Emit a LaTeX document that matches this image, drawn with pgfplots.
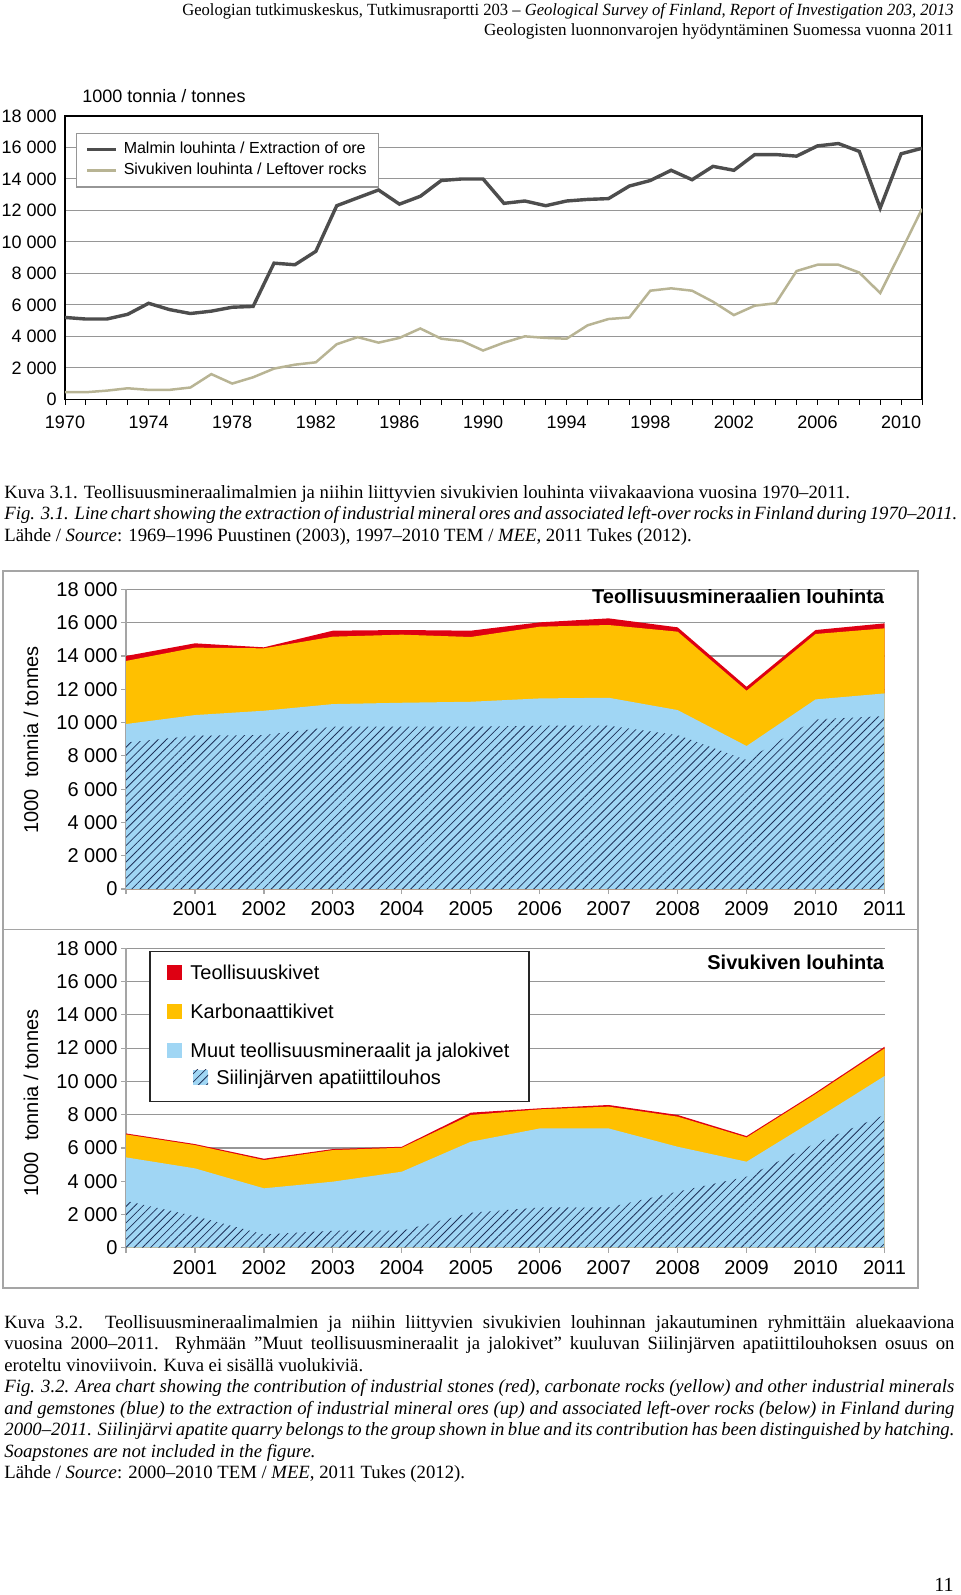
\documentclass[border=0pt]{standalone}
\usepackage{fontspec}
\setmainfont{Liberation Serif}
\newfontfamily\arial{Liberation Sans}
\usepackage{pgfplots}
\usepackage{pgfplotstable}
\pgfplotsset{compat=1.18}
\usetikzlibrary{patterns.meta}

\definecolor{oredark}{RGB}{77,77,77}
\definecolor{leftlight}{RGB}{184,180,148}
\definecolor{gridgray}{RGB}{150,150,150}
\definecolor{framegray}{RGB}{165,165,165}
\definecolor{redc}{RGB}{222,0,18}
\definecolor{yelc}{RGB}{255,192,0}
\definecolor{bluec}{RGB}{160,214,244}
\definecolor{hatchc}{RGB}{30,50,90}

\pgfplotstableread{
year ore left
1970 5200 450
1971 5100 450
1972 5100 550
1973 5400 700
1974 6100 600
1975 5700 600
1976 5450 750
1977 5600 1600
1978 5850 1000
1979 5900 1400
1980 8650 1950
1981 8550 2200
1982 9400 2350
1983 12300 3500
1984 12800 3950
1985 13300 3600
1986 12400 3900
1987 12900 4500
1988 13900 3850
1989 14000 3700
1990 14000 3100
1991 12450 3600
1992 12600 4000
1993 12300 3900
1994 12600 3850
1995 12700 4700
1996 12750 5100
1997 13550 5200
1998 13900 6900
1999 14550 7050
2000 13950 6900
2001 14800 6200
2002 14550 5350
2003 15550 5950
2004 15550 6100
2005 15450 8150
2006 16100 8550
2007 16250 8550
2008 15750 8050
2009 12150 6750
2010 15600 9400
2011 15950 12100
}\tabLine

\pgfplotstableread{
year tot yel blu hat
2000 14000 13700 9910 8800
2001 14760 14500 10450 9210
2002 14520 14460 10710 9250
2003 15520 15160 11110 9750
2004 15560 15280 11190 9750
2005 15520 15140 11250 9750
2006 16020 15760 11450 9810
2007 16260 15860 11490 9810
2008 15720 15460 10750 9250
2009 12150 11910 8590 7750
2010 15560 15320 11390 10190
2011 15960 15660 11750 10390
}\tabTop

\pgfplotstableread{
year tot yel blu hat
2000 6870 6810 5430 2810
2001 6230 6170 4770 1900
2002 5350 5270 3570 800
2003 5930 5870 3970 1020
2004 6070 6010 4570 1020
2005 8120 7980 6370 2100
2006 8380 8320 7170 2420
2007 8580 8480 7170 2420
2008 7980 7880 6070 3370
2009 6710 6630 5170 4270
2010 9320 9240 7720 6270
2011 12080 11980 10320 7980
}\tabBot

\pgfplotsset{
  areapanel/.style={
    scale only axis, width=379.25pt, height=149.8pt,
    xmin=2000, xmax=2011, ymin=0, ymax=18000,
    scaled x ticks=false, scaled y ticks=false,
    axis x line*=bottom, axis y line*=left,
    axis line style={-, draw=framegray, line width=0.7pt},
    xtick={2000,2001,2002,2003,2004,2005,2006,2007,2008,2009,2010,2011},
    xticklabels={,2001,2002,2003,2004,2005,2006,2007,2008,2009,2010,2011},
    ytick={0,2000,4000,6000,8000,10000,12000,14000,16000,18000},
    yticklabels={0,2 000,4 000,6 000,8 000,10 000,12 000,14 000,16 000,18 000},
    tick align=outside, major tick length=2.5pt,
    every tick/.style={draw=framegray, line width=0.6pt},
    ymajorgrids, grid style={draw=gridgray, line width=0.6pt},
    tick label style={font=\arial\fontsize{10}{12}\selectfont},
    xticklabel style={anchor=north, inner sep=0pt, yshift=-3.6pt},
    yticklabel style={anchor=east, inner sep=0pt, xshift=-1.5pt},
  },
  hatchfill/.style={draw=none, pattern={Lines[angle=45,distance=2.9pt,line width=0.4pt]}, pattern color=hatchc},
}

\begin{document}
\begin{tikzpicture}
\begin{scope}[x=0.5pt,y=-0.5pt]
\path[use as bounding box] (0,0) rectangle (960,1595);
% header
\node[anchor=base east, inner sep=0pt, font=\fontsize{8.54}{10}\selectfont] at (954,16) {\scalebox{0.972}[1]{Geologian tutkimuskeskus, Tutkimusraportti 203 – \textit{Geological Survey of Finland, Report of Investigation 203, 2013}}};
\node[anchor=base east, inner sep=0pt, font=\fontsize{8.54}{10}\selectfont] at (954,36) {Geologisten luonnonvarojen hyödyntäminen Suomessa vuonna 2011};
% caption 3.1
\begin{scope}[every node/.style={anchor=base west, inner sep=0pt, font=\fontsize{9.36}{11}\selectfont}]
\node at (4,498) {Kuva 3.1. Teollisuusmineraalimalmien ja niihin liittyvien sivukivien louhinta viivakaaviona vuosina 1970–2011.};
\node at (4,519.5) {\makebox[475pt][s]{\itshape Fig. 3.1. Line chart showing the extraction of industrial mineral ores and associated left-over rocks in Finland during 1970–2011.}};
\node at (4,541) {Lähde / \textit{Source}: 1969–1996 Puustinen (2003), 1997–2010 TEM / \textit{MEE}, 2011 Tukes (2012).};
% caption 3.2
\node at (4,1328) {\makebox[475pt][s]{Kuva 3.2. Teollisuusmineraalimalmien ja niihin liittyvien sivukivien louhinnan jakautuminen ryhmittäin aluekaaviona}};
\node at (4,1349.5) {\makebox[475pt][s]{vuosina 2000–2011. Ryhmään ”Muut teollisuusmineraalit ja jalokivet” kuuluvan Siilinjärven apatiittilouhoksen osuus on}};
\node at (4,1371) {eroteltu vinoviivoin. Kuva ei sisällä vuolukiviä.};
\node at (4,1392.5) {\makebox[475pt][s]{\itshape Fig. 3.2. Area chart showing the contribution of industrial stones (red), carbonate rocks (yellow) and other industrial minerals}};
\node at (4,1414) {\makebox[475pt][s]{\itshape and gemstones (blue) to the extraction of industrial mineral ores (up) and associated left-over rocks (below) in Finland during}};
\node at (4,1435.5) {\makebox[475pt][s]{\itshape 2000–2011. Siilinjärvi apatite quarry belongs to the group shown in blue and its contribution has been distinguished by hatching.}};
\node at (4,1457) {\itshape Soapstones are not included in the figure.};
\node at (4,1478.5) {Lähde / \textit{Source}: 2000–2010 TEM / \textit{MEE}, 2011 Tukes (2012).};
\end{scope}
\node[anchor=base east, inner sep=0pt, font=\fontsize{10}{12}\selectfont] at (954,1591) {11};
% chart 1 label
\node[anchor=base west, inner sep=0pt, font=\arial\fontsize{9}{11}\selectfont] at (82,102.5) {1000 tonnia / tonnes};
% chart 2 frames
\draw[framegray, line width=0.8pt] (3,571) rectangle (918,1288);
\draw[framegray, line width=0.8pt] (3,929.5) -- (918,929.5);
\node[rotate=90, inner sep=0pt, font=\arial\fontsize{10}{12}\selectfont] at (31,740) {1000~ tonnia / tonnes};
\node[rotate=90, inner sep=0pt, font=\arial\fontsize{10}{12}\selectfont] at (31,1103) {1000~ tonnia / tonnes};
\end{scope}

% ---------------- chart 1 ----------------
\begin{axis}[
  at={(32.5pt,-199.65pt)}, anchor=south west,
  scale only axis, width=428.5pt, height=141.65pt,
  xmin=1970, xmax=2011, ymin=0, ymax=18000,
  scaled x ticks=false, scaled y ticks=false,
  axis line style={black, line width=0.7pt},
  xtick={1970,1974,1978,1982,1986,1990,1994,1998,2002,2006,2010},
  xticklabels={1970,1974,1978,1982,1986,1990,1994,1998,2002,2006,2010},
  minor xtick={1970,1971,...,2011},
  xtick pos=bottom, ytick pos=left,
  tick align=outside, major tick length=2.8pt, minor tick length=2.8pt,
  every tick/.style={black, line width=0.5pt},
  ytick={0,2000,4000,6000,8000,10000,12000,14000,16000,18000},
  yticklabels={0,2 000,4 000,6 000,8 000,10 000,12 000,14 000,16 000,18 000},
  ytick style={draw=none},
  ymajorgrids, grid style={draw=gridgray, line width=0.5pt},
  tick label style={font=\arial\fontsize{9}{11}\selectfont},
  xticklabel style={anchor=north, inner sep=0pt, yshift=-5.2pt},
  yticklabel style={anchor=east, inner sep=0pt, xshift=-1.2pt},
  legend style={at={(0.0128,0.941)}, anchor=north west, draw=gridgray, line width=0.6pt, fill=white,
    font=\arial\fontsize{8}{9.6}\selectfont, inner xsep=4.5pt, inner ysep=3.2pt, row sep=0.6pt,
    column sep=1.6pt, nodes={inner sep=1.3pt}},
  legend cell align=left,
  legend image code/.code={\draw[#1] (0pt,0pt) -- (14.5pt,0pt);},
]
\addplot[oredark, line width=1.7pt] table[x=year,y=ore]{\tabLine};
\addlegendentry{Malmin louhinta / Extraction of ore}
\addplot[leftlight, line width=1.25pt] table[x=year,y=left]{\tabLine};
\addlegendentry{Sivukiven louhinta / Leftover rocks}
\end{axis}

% ---------------- chart 2 top ----------------
\begin{axis}[areapanel, at={(63pt,-444.5pt)}, anchor=south west]
\addplot[draw=none, fill=redc] table[x=year,y=tot]{\tabTop} \closedcycle;
\addplot[draw=none, fill=yelc] table[x=year,y=yel]{\tabTop} \closedcycle;
\addplot[draw=none, fill=bluec] table[x=year,y=blu]{\tabTop} \closedcycle;
\addplot[hatchfill] table[x=year,y=hat]{\tabTop} \closedcycle;
\node[anchor=base east, inner sep=0pt, font=\arial\bfseries\fontsize{10}{12}\selectfont] at (rel axis cs:1,0.9535) {Teollisuusmineraalien louhinta};
\end{axis}

% ---------------- chart 2 bottom ----------------
\begin{axis}[areapanel, at={(63pt,-623.85pt)}, anchor=south west, height=149.7pt]
\addplot[draw=none, fill=redc] table[x=year,y=tot]{\tabBot} \closedcycle;
\addplot[draw=none, fill=yelc] table[x=year,y=yel]{\tabBot} \closedcycle;
\addplot[draw=none, fill=bluec] table[x=year,y=blu]{\tabBot} \closedcycle;
\addplot[hatchfill] table[x=year,y=hat]{\tabBot} \closedcycle;
\node[anchor=base east, inner sep=0pt, font=\arial\bfseries\fontsize{10}{12}\selectfont] at (rel axis cs:1,0.9305) {Sivukiven louhinta};
\end{axis}

% legend of chart 2 (page units)
\begin{scope}[x=0.5pt,y=-0.5pt]
\draw[black!85, line width=0.7pt, fill=white] (150,951.7) rectangle (529,1101.7);
\fill[redc] (167,965.2) rectangle (182,980.2);
\fill[yelc] (167,1003.5) rectangle (182,1018.5);
\fill[bluec] (167,1043.2) rectangle (182,1058.2);
\fill[bluec] (193,1069.5) rectangle (208,1084.5);
\fill[pattern={Lines[angle=45,distance=2.9pt,line width=0.4pt]}, pattern color=hatchc] (193,1069.5) rectangle (208,1084.5);
\begin{scope}[every node/.style={anchor=base west, inner sep=0pt, font=\arial\fontsize{10}{12}\selectfont}]
\node at (190,979.7) {Teollisuuskivet};
\node at (190,1018) {Karbonaattikivet};
\node at (190,1057.7) {Muut teollisuusmineraalit ja jalokivet};
\node at (216,1084) {Siilinjärven apatiittilouhos};
\end{scope}
\end{scope}
\end{tikzpicture}
\end{document}
